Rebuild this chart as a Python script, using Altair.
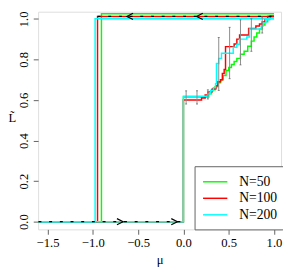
import altair as alt
import pandas as pd

# ---------------- data ----------------
series = ["N=50", "N=100", "N=200"]
colors = ["#00FF00", "#FF0000", "#00FFFF"]

mu_min = -1.6
mu_max = 1.0

# upper (descending) branch: jump position and plateau level
up_jump = [-0.905, -0.948, -0.975]
up_level = [1.025, 1.012, 1.0]

# lower (ascending) branch: step positions and levels
g_mu = [-1.6, 0.0, 0.28, 0.31, 0.35, 0.38, 0.41, 0.44, 0.47, 0.50, 0.53, 0.56, 0.59,
        0.63, 0.67, 0.71, 0.75, 0.78, 0.81, 0.84, 0.87, 0.90, 0.93, 0.96]
g_L = [0.0, 0.615, 0.63, 0.65, 0.665, 0.685, 0.70, 0.72, 0.745, 0.76, 0.775, 0.79, 0.805,
       0.825, 0.84, 0.865, 0.89, 0.91, 0.93, 0.95, 0.97, 0.985, 1.0, 1.015]

r_mu = [-1.6, 0.0, 0.20, 0.24, 0.27, 0.32, 0.36, 0.38, 0.41, 0.43, 0.45, 0.465, 0.56,
        0.59, 0.62, 0.72, 0.80, 0.84, 0.87, 0.90, 0.93]
r_L = [0.0, 0.60, 0.61, 0.625, 0.64, 0.655, 0.67, 0.69, 0.70, 0.73, 0.75, 0.863, 0.876,
       0.90, 0.92, 0.952, 0.965, 0.975, 0.985, 1.0, 1.012]

c_mu = [-1.6, 0.0, 0.27, 0.30, 0.33, 0.355, 0.365, 0.39, 0.42, 0.55, 0.59, 0.62, 0.70,
        0.73, 0.86, 0.88, 0.91, 0.95]
c_L = [0.0, 0.618, 0.63, 0.645, 0.66, 0.68, 0.78, 0.805, 0.83, 0.86, 0.875, 0.90, 0.91,
       0.95, 0.965, 0.98, 0.995, 1.0]

lower_mu = [g_mu, r_mu, c_mu]
lower_L = [g_L, r_L, c_L]

# error bars
err_mu = [0.03, 0.15, 0.27, 0.39, 0.51, 0.63, 0.75, 0.87]
err_lo = [0.58, 0.58, 0.605, 0.647, 0.705, 0.773, 0.84, 0.93]
err_hi = [0.645, 0.645, 0.65, 0.908, 0.958, 0.995, 1.0, 1.01]

# hysteresis guide (black dashed) and arrows
guide_seg = ["low", "low", "high", "high"]
guide_mu = [-1.6, 0.0, -0.948, 1.0]
guide_L = [0.0, 0.0, 1.012, 1.012]
arrow_right_mu = [-0.7, -0.1]
arrow_right_L = [0.0, 0.0]
arrow_left_mu = [-0.59, 0.18]
arrow_left_L = [1.012, 1.012]

x_ticks = [-1.5, -1.0, -0.5, 0.0, 0.5, 1.0]
y_ticks = [0.0, 0.2, 0.4, 0.6, 0.8, 1.0]

# ---------------- build tables ----------------
rows = []
for i, s in enumerate(series):
    up = [(mu_min, 0.0), (up_jump[i], up_level[i]), (mu_max, up_level[i])]
    for k, (m, l) in enumerate(up):
        rows.append({"mu": m, "L": l, "N": s, "branch": "up", "o": k})
    lo = list(zip(lower_mu[i], lower_L[i])) + [(mu_max, lower_L[i][-1])]
    for k, (m, l) in enumerate(lo):
        rows.append({"mu": m, "L": l, "N": s, "branch": "low", "o": k})
df = pd.DataFrame(rows)

err_df = pd.DataFrame({"mu": err_mu, "lo": err_lo, "hi": err_hi})
guide_df = pd.DataFrame({"seg": guide_seg, "mu": guide_mu, "L": guide_L})
ar_df = pd.DataFrame({"mu": arrow_right_mu, "L": arrow_right_L})
al_df = pd.DataFrame({"mu": arrow_left_mu, "L": arrow_left_L})

FONT = "Times New Roman, Liberation Serif, serif"
GRAY = "#606060"

xs = alt.Scale(domain=[-1.604, 1.078], nice=False, zero=False)
ys = alt.Scale(domain=[-0.038, 1.035], nice=False, zero=False)

x_axis = alt.Axis(values=x_ticks, format=".1f", title="μ", grid=False, domain=False,
                  tickSize=5, tickColor=GRAY, labelFont=FONT, labelFontSize=13,
                  labelColor="black", labelPadding=3, labelFlush=False,
                  titleFont=FONT, titleFontSize=13, titleFontWeight="normal",
                  titleColor="black", titleY=31, titleBaseline="middle")
y_axis = alt.Axis(values=y_ticks, format=".1f", title="L\u0303", grid=False, domain=False,
                  tickSize=5, tickColor=GRAY, labelFont=FONT, labelFontSize=13,
                  labelColor="black", labelAngle=-90, labelAlign="center",
                  labelBaseline="bottom", labelPadding=2.5, labelFlush=False,
                  titleFont=FONT, titleFontSize=13, titleFontWeight="normal",
                  titleColor="black", titleAngle=0, titleX=-27, titleY=109,
                  titleAlign="center", titleBaseline="middle")


def X(field):
    return alt.X(field, scale=xs, axis=x_axis)


def Y(field):
    return alt.Y(field, scale=ys, axis=y_axis)


color = alt.Color("N:N", scale=alt.Scale(domain=series, range=colors),
                  legend=alt.Legend(orient="none", legendX=161, legendY=159, title=None,
                                    direction="vertical", strokeColor=GRAY, fillColor="white",
                                    padding=8, symbolType="M-1.04,0L2.53,0", symbolSize=196,
                                    symbolStrokeWidth=1.5, labelFont=FONT, labelFontSize=14,
                                    labelColor="black", labelOffset=22, rowPadding=2))

layers = []
for i, s in enumerate(series):
    layers.append(alt.Chart(df[df["N"] == s]).mark_line(
        interpolate="step-after", strokeWidth=1.5).encode(
        x=X("mu:Q"), y=Y("L:Q"), color=color, detail="branch:N", order="o:Q"))

err = alt.Chart(err_df).mark_rule(color="#8a8a8a", strokeWidth=1).encode(
    x=X("mu:Q"), y=Y("lo:Q"), y2="hi:Q")
cap_lo = alt.Chart(err_df).mark_tick(color="#555555", orient="horizontal", size=2,
                                     thickness=1).encode(x=X("mu:Q"), y=Y("lo:Q"))
cap_hi = alt.Chart(err_df).mark_tick(color="#555555", orient="horizontal", size=2,
                                     thickness=1).encode(x=X("mu:Q"), y=Y("hi:Q"))

guide = alt.Chart(guide_df).mark_line(color="black", strokeWidth=1.2,
                                      strokeDash=[3, 8]).encode(
    x=X("mu:Q"), y=Y("L:Q"), detail="seg:N")

arr_r = alt.Chart(ar_df).mark_point(shape="M-1,-1L1,0L-1,1", size=40, filled=False,
                                    color="black", strokeWidth=1.2, opacity=1).encode(
    x=X("mu:Q"), y=Y("L:Q"))
arr_l = alt.Chart(al_df).mark_point(shape="M1,-1L-1,0L1,1", size=40, filled=False,
                                    color="black", strokeWidth=1.2, opacity=1).encode(
    x=X("mu:Q"), y=Y("L:Q"))

chart = alt.layer(*layers, err, cap_lo, cap_hi, guide, arr_r, arr_l).properties(
    width=250, height=224,
    autosize=alt.AutoSizeParams(type="none"),
    padding={"left": 31, "top": 0, "right": 2, "bottom": 40},
).configure_view(stroke=GRAY, strokeWidth=1.2).configure(background="white", font=FONT)

chart.save("out.html", embed_options={"renderer": "svg", "actions": False})
